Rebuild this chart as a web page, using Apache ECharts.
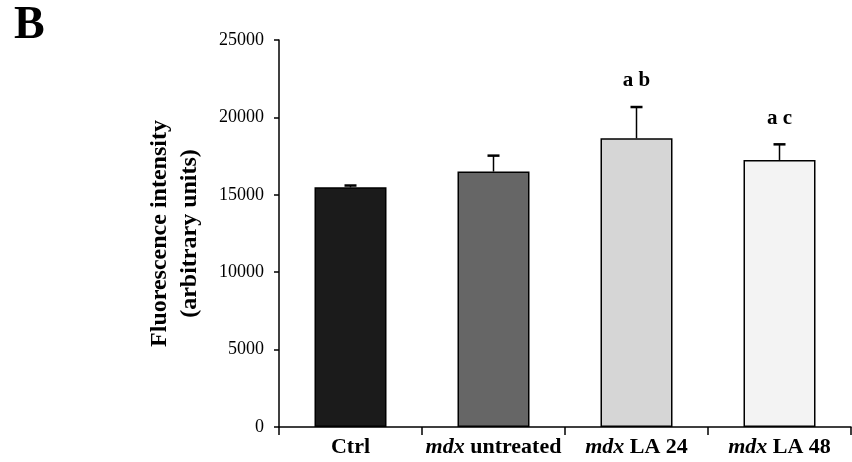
<!DOCTYPE html>
<html>
<head>
<meta charset="utf-8">
<script src="https://cdn.jsdelivr.net/npm/echarts@6/dist/echarts.min.js"></script>
<style>
  html, body { margin: 0; padding: 0; background: #fff; }
  #chart { width: 852px; height: 462px; }
</style>
</head>
<body>
<div id="chart"></div>
<script>
const categories = ['Ctrl', 'mdx untreated', 'mdx LA 24', 'mdx LA 48'];
const means = [15480, 16500, 18650, 17250];
const errTops = [15600, 17530, 20670, 18260];
const annotations = ['', '', 'a b', 'a c'];
const barColors = ['#1b1b1b', '#666666', '#d6d6d6', '#f3f3f3'];
const yTicks = [0, 5000, 10000, 15000, 20000, 25000];

const serif = '"Liberation Serif", "DejaVu Serif", serif';

const myChart = echarts.init(document.getElementById('chart'));

myChart.setOption({
  animation: false,
  graphic: [{
    type: 'text',
    left: 14,
    top: 3,
    style: { text: 'B', font: 'bold 46px ' + serif, fill: '#000' }
  }],
  grid: { left: 279, right: 1, top: 40, bottom: 35 },
  xAxis: {
    type: 'category',
    data: categories,
    axisLine: { lineStyle: { color: '#000', width: 1.5 } },
    axisTick: { show: true, alignWithLabel: false, length: 8, lineStyle: { color: '#000', width: 1.5 } },
    axisLabel: {
      interval: 0,
      margin: 9,
      color: '#000',
      fontFamily: serif,
      fontWeight: 'bold',
      fontSize: 22,
      formatter: (v) => v.startsWith('mdx') ? '{i|mdx}' + v.slice(3) : v,
      rich: {
        i: { fontStyle: 'italic', fontWeight: 'bold', fontFamily: serif, fontSize: 22, color: '#000' }
      }
    }
  },
  yAxis: {
    type: 'value',
    min: yTicks[0],
    max: yTicks[yTicks.length - 1],
    interval: 5000,
    name: 'Fluorescence intensity\n(arbitrary units)',
    nameLocation: 'middle',
    nameGap: 74,
    nameTextStyle: { color: '#000', fontFamily: serif, fontWeight: 'bold', fontSize: 24, lineHeight: 30 },
    splitLine: { show: false },
    axisLine: { show: true, lineStyle: { color: '#000', width: 1.5 } },
    axisTick: { show: true, length: 5, lineStyle: { color: '#000', width: 1.5 } },
    axisLabel: { margin: 15, color: '#000', fontFamily: serif, fontSize: 18, formatter: (v) => String(v) }
  },
  series: [
    {
      type: 'bar',
      barWidth: 72,
      data: means.map((v, i) => ({
        value: v,
        itemStyle: { color: barColors[i], borderColor: '#000', borderWidth: 1.5 }
      })),
      z: 2
    },
    {
      type: 'custom',
      data: categories.map((c, i) => [i, means[i], errTops[i]]),
      z: 3,
      renderItem(params, api) {
        const base = api.coord([api.value(0), api.value(1)]);
        const top = api.coord([api.value(0), api.value(2)]);
        const cap = 6;
        return {
          type: 'group',
          children: [
            { type: 'line', shape: { x1: base[0], y1: base[1], x2: top[0], y2: top[1] }, style: { stroke: '#000', lineWidth: 1.5 } },
            { type: 'line', shape: { x1: top[0] - cap, y1: top[1], x2: top[0] + cap, y2: top[1] }, style: { stroke: '#000', lineWidth: 2.5 } },
            {
              type: 'text',
              style: {
                text: annotations[params.dataIndex],
                x: top[0], y: top[1] - 26,
                align: 'center', verticalAlign: 'middle',
                font: 'bold 21px ' + serif, fill: '#000'
              }
            }
          ]
        };
      }
    }
  ]
});
</script>
</body>
</html>
